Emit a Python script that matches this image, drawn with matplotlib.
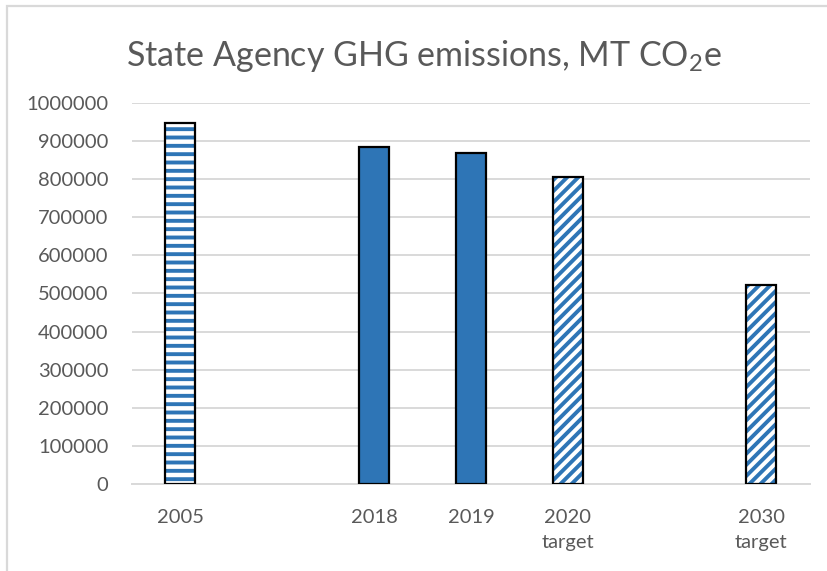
import numpy as np
import matplotlib
matplotlib.use('Agg')
import matplotlib.pyplot as plt
from matplotlib.patches import Rectangle

plt.rcParams['font.family'] = ['Lato', 'DejaVu Sans']
plt.rcParams['mathtext.fontset'] = 'custom'
plt.rcParams['mathtext.rm'] = 'Lato'
plt.rcParams['hatch.linewidth'] = 2.8

# data
categories = ['2005', '', '2018', '2019', '2020\ntarget', '', '2030\ntarget']
emissions = [947000, np.nan, 884000, 868000, 805000, np.nan, 521000]
kinds = ['base', None, 'actual', 'actual', 'target', None, 'target']
yticks = np.arange(0, 1000001, 100000)

blue = '#2E75B6'
grey_txt = '#595959'
grid_c = '#D9D9D9'

fig = plt.figure(figsize=(8.28, 5.71), dpi=100)
ax = fig.add_axes([0.1594, 0.1524, 0.8186, 0.6672])

x = np.arange(len(categories))
w = 0.31
hatches = {'base': '--', 'actual': '', 'target': '///'}
for xi, v, k in zip(x, emissions, kinds):
    if k is None:
        continue
    if k == 'actual':
        ax.bar(xi, v, w, color=blue, edgecolor='black', linewidth=1.6, zorder=3)
    else:
        ax.bar(xi, v, w, color='white', edgecolor=blue, hatch=hatches[k],
               linewidth=0, zorder=3)
        ax.bar(xi, v, w, fill=False, edgecolor='black', linewidth=1.6, zorder=4)

ax.set_xlim(-0.5, len(categories) - 0.5)
ax.set_ylim(0, 1000000)
ax.set_yticks(yticks)
ax.set_yticklabels([str(t) for t in yticks])
ax.set_xticks(x)
ax.set_xticklabels(categories, linespacing=1.6)

ax.grid(axis='y', color=grid_c, linewidth=1.4, zorder=0)
ax.set_axisbelow(True)
for s in ['top', 'right', 'left']:
    ax.spines[s].set_visible(False)
ax.spines['bottom'].set_color(grid_c)
ax.spines['bottom'].set_linewidth(1.4)
ax.tick_params(axis='both', length=0, labelsize=14.5, labelcolor=grey_txt)
ax.tick_params(axis='y', pad=17)
ax.tick_params(axis='x', pad=18)

fig.text(0.5115, 0.902, r'State Agency GHG emissions, MT CO$_\mathregular{2}$e',
         ha='center', va='center', fontsize=24.5, color=grey_txt)

# chart border
fig.patches.append(Rectangle((7 / 828, -0.1), 1.2, 1.1 - 6 / 571 + 0.0,
                             transform=fig.transFigure, fill=False,
                             edgecolor=grid_c, linewidth=1.6))

fig.savefig('out.png', dpi=100)
